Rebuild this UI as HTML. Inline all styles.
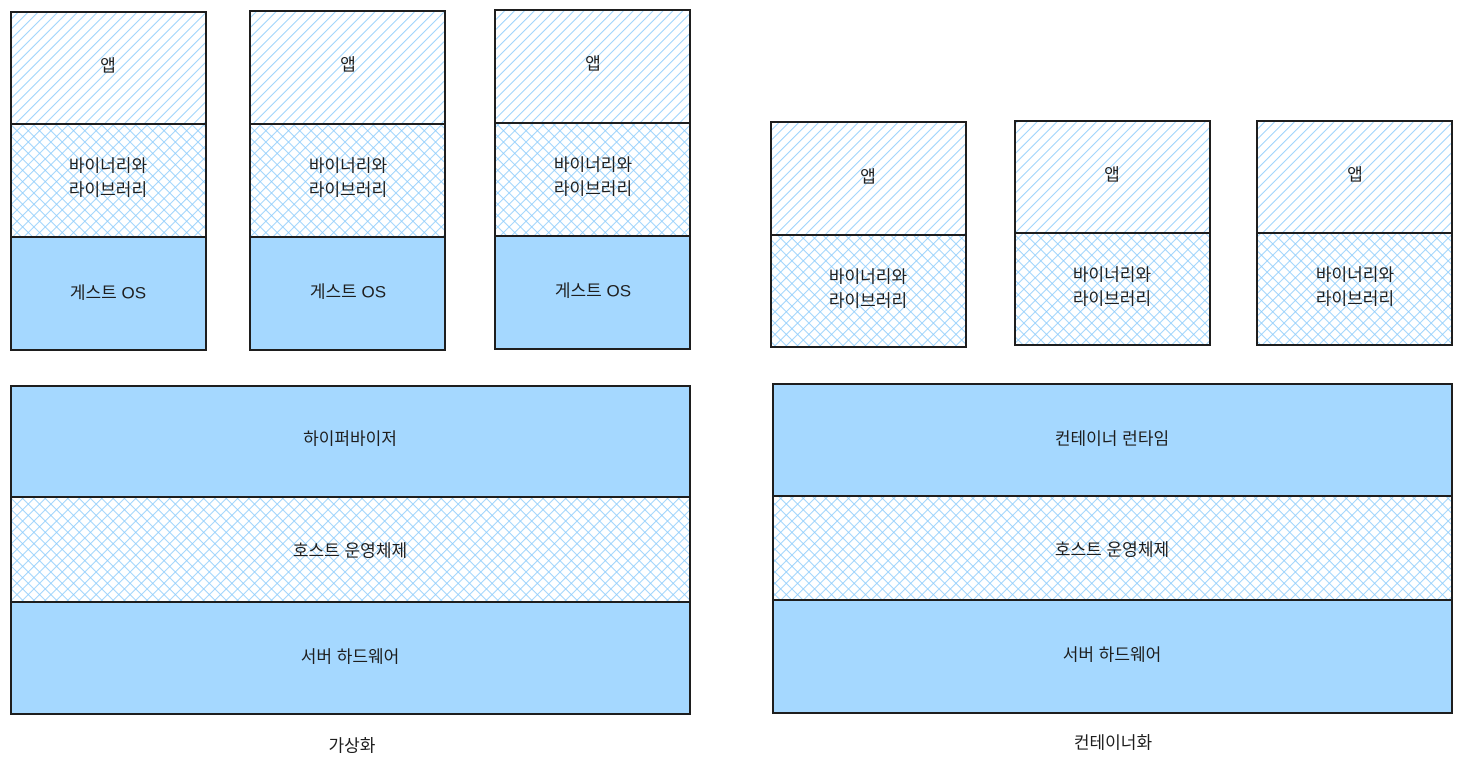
<!DOCTYPE html>
<html><head><meta charset="utf-8"><style>
html,body{margin:0;padding:0;background:#fff;}
svg{display:block}
text{font-family:"Liberation Sans","Noto Sans CJK KR","NanumGothic",sans-serif;font-size:17px;fill:#1e1e1e;text-anchor:middle;dominant-baseline:middle}
</style></head><body>
<svg width="1463" height="771" viewBox="0 0 1463 771" xmlns="http://www.w3.org/2000/svg">
<defs>
<pattern id="h" width="7" height="7" patternUnits="userSpaceOnUse" patternTransform="rotate(45)">
<rect width="7" height="7" fill="#fff"/><line x1="0" y1="0" x2="0" y2="7" stroke="#8fcdfb" stroke-width="1.8"/>
</pattern>
<pattern id="c" width="8" height="8" patternUnits="userSpaceOnUse" patternTransform="rotate(45)">
<rect width="8" height="8" fill="#fff"/><line x1="0" y1="0" x2="0" y2="8" stroke="#8fcdfb" stroke-width="1.7"/><line x1="0" y1="0" x2="8" y2="0" stroke="#8fcdfb" stroke-width="1.7"/>
</pattern>
</defs>
<g stroke="#1e1e1e" stroke-width="2">
<rect x="11" y="12" width="195" height="112" fill="url(#h)"/>
<rect x="11" y="124" width="195" height="113" fill="url(#c)"/>
<rect x="11" y="237" width="195" height="113" fill="#a5d8ff"/>
<rect x="250" y="11" width="195" height="113" fill="url(#h)"/>
<rect x="250" y="124" width="195" height="113" fill="url(#c)"/>
<rect x="250" y="237" width="195" height="113" fill="#a5d8ff"/>
<rect x="495" y="10" width="195" height="113" fill="url(#h)"/>
<rect x="495" y="123" width="195" height="113" fill="url(#c)"/>
<rect x="495" y="236" width="195" height="113" fill="#a5d8ff"/>
<rect x="771" y="122" width="195" height="113" fill="url(#h)"/>
<rect x="771" y="235" width="195" height="112" fill="url(#c)"/>
<rect x="1015" y="121" width="195" height="112" fill="url(#h)"/>
<rect x="1015" y="233" width="195" height="112" fill="url(#c)"/>
<rect x="1257" y="121" width="195" height="112" fill="url(#h)"/>
<rect x="1257" y="233" width="195" height="112" fill="url(#c)"/>
<rect x="11" y="386" width="679" height="111" fill="#a5d8ff"/>
<rect x="11" y="497" width="679" height="105" fill="url(#c)"/>
<rect x="11" y="602" width="679" height="112" fill="#a5d8ff"/>
<rect x="773" y="384" width="679" height="112" fill="#a5d8ff"/>
<rect x="773" y="496" width="679" height="104" fill="url(#c)"/>
<rect x="773" y="600" width="679" height="113" fill="#a5d8ff"/>
</g>
<g>
<text x="108" y="67">앱</text><text x="348" y="66">앱</text><text x="593" y="65">앱</text>
<text x="108" y="167">바이너리와</text><text x="108" y="191">라이브러리</text>
<text x="348" y="167">바이너리와</text><text x="348" y="191">라이브러리</text>
<text x="593" y="166">바이너리와</text><text x="593" y="190">라이브러리</text>
<text x="108" y="294">게스트 OS</text><text x="348" y="293">게스트 OS</text><text x="593" y="292">게스트 OS</text>
<text x="868" y="178">앱</text><text x="1112" y="176">앱</text><text x="1355" y="176">앱</text>
<text x="868" y="278">바이너리와</text><text x="868" y="302">라이브러리</text>
<text x="1112" y="276">바이너리와</text><text x="1112" y="300">라이브러리</text>
<text x="1355" y="276">바이너리와</text><text x="1355" y="300">라이브러리</text>
<text x="350" y="440">하이퍼바이저</text>
<text x="350" y="552">호스트 운영체제</text>
<text x="350" y="658">서버 하드웨어</text>
<text x="1112" y="440">컨테이너 런타임</text>
<text x="1112" y="551">호스트 운영체제</text>
<text x="1112" y="656">서버 하드웨어</text>
<text x="352" y="747">가상화</text>
<text x="1113" y="744">컨테이너화</text>
</g>
</svg>
</body></html>
